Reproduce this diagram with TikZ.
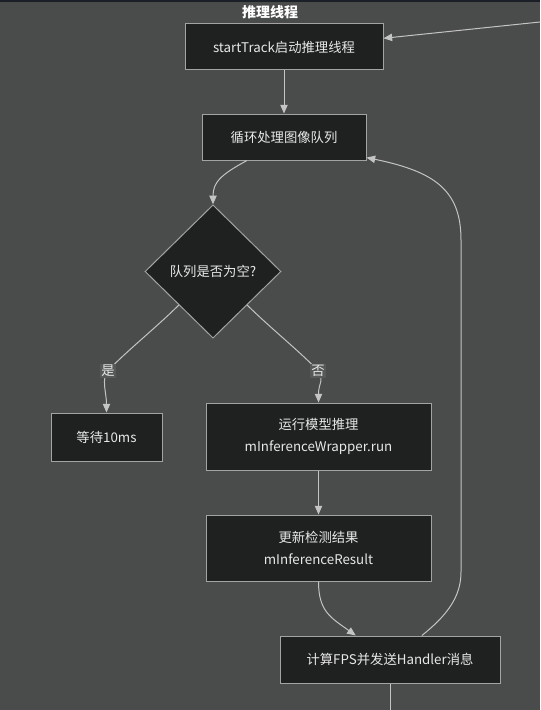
\documentclass[tikz,border=0pt]{standalone}
\usepackage{fontspec}
\setmainfont{Noto Sans CJK SC}
\usetikzlibrary{shapes.geometric,arrows.meta}

\definecolor{bgcol}{HTML}{4A4B4B}
\definecolor{topband}{HTML}{1B1F27}
\definecolor{boxfill}{HTML}{1F2020}
\definecolor{boxline}{HTML}{A3A3A3}
\definecolor{edgecol}{HTML}{C4C4C4}
\definecolor{txtcol}{HTML}{E8E8E8}
\definecolor{lblbg}{HTML}{575858}

\begin{document}
\begin{tikzpicture}[x=0.75pt,y=-0.75pt,
  box/.style={draw=boxline,fill=boxfill,text=txtcol,line width=0.75pt,inner sep=0pt,
    align=center,font=\fontsize{10pt}{16.5pt}\selectfont},
  decision/.style={box,diamond,minimum width=102pt,minimum height=100pt},
  edge/.style={draw=edgecol,line width=0.75pt},
  flow/.style={edge,-{Triangle[length=6.5pt,width=5.5pt]}},
  lbl/.style={fill=lblbg,text=txtcol,inner sep=1pt,font=\fontsize{10pt}{12pt}\selectfont},
  title/.style={text=white,font=\fontsize{10.5pt}{12pt}\selectfont\bfseries}]

% background and frame
\fill[bgcol] (0,0) rectangle (540,710);
\fill[topband] (0,0) rectangle (540,2);
\useasboundingbox (0,0) rectangle (540,710);

\node[title] (ttl) at (270,12) {推理线程};

% steps
\node[box,minimum width=148.5pt,minimum height=34.5pt] (start) at (284,47) {startTrack启动推理线程};
\node[box,minimum width=123pt,minimum height=34.5pt] (loop) at (284,137) {循环处理图像队列};
\node[decision] (empty) at (213,271.5) {队列是否为空?};
\node[box,minimum width=83.25pt,minimum height=36pt] (wait) at (106.5,437) {等待10ms};
\node[box,minimum width=168.75pt,minimum height=50.25pt] (infer) at (318.5,436.5) {运行模型推理\\mInferenceWrapper.run};
\node[box,minimum width=168.75pt,minimum height=49.5pt] (update) at (318.5,548) {更新检测结果\\mInferenceResult};
\node[box,minimum width=165pt,minimum height=35.25pt] (fps) at (390,659.5) {计算FPS并发送Handler消息};

% free ends and bends
\coordinate (in) at (540,22);
\coordinate (out) at (390,710);
\coordinate (yesat) at (108,371);
\coordinate (noat) at (318,371);
\coordinate (backlow) at (461,572);
\coordinate (backhigh) at (461,240);

% connectors
\draw[flow] (in) -- (start.5);
\draw[flow] (start.south) -- (loop.north);
\draw[flow] ([xshift=-27.75pt]loop.south) .. controls +(-26,14) and +(0,-22) .. (empty.north);
\draw[flow] (empty.south west) .. controls +(-22,22) and +(14,-16) .. (yesat)
  .. controls +(-7,8) and +(0,-20) .. (wait.north);
\draw[flow] (empty.south east) .. controls +(22,22) and +(-14,-16) .. (noat)
  .. controls +(7,8) and +(0,-20) .. (infer.north);
\node[lbl] (yes) at (yesat) {是};
\node[lbl] (no) at (noat) {否};
\draw[flow] (infer.south) -- (update.north);
\draw[flow] (update.south) .. controls +(0,30) and +(-25,-18) .. (fps.145);
\draw[flow] (fps.37) .. controls +(25,-20) and +(0,25) .. (backlow) -- (backhigh)
  .. controls +(0,-50) and +(68,14) .. (loop.346);
\draw[edge] (fps.south) -- (out);

\end{tikzpicture}
\end{document}
